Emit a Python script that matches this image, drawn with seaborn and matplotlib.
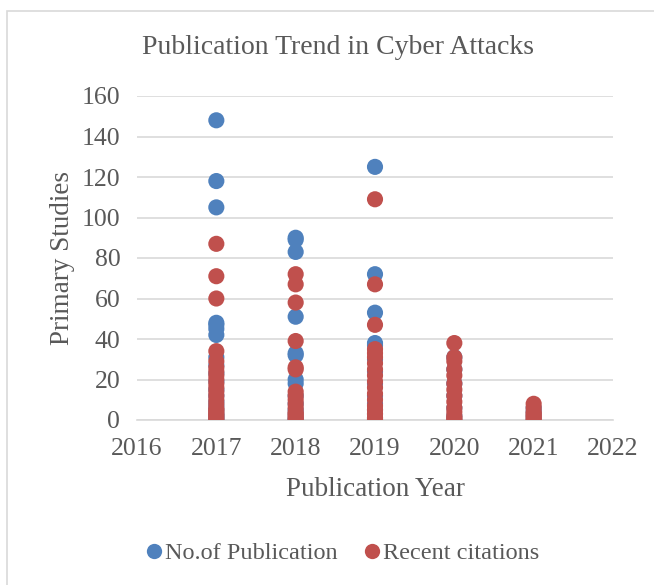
import matplotlib
matplotlib.use("Agg")
import matplotlib.pyplot as plt
import matplotlib.patches as mpatches
import seaborn as sns
import pandas as pd

sns.set_theme(style="white")
plt.rcParams['font.family'] = ['Liberation Serif', 'DejaVu Serif']

# --- data ---
pub_2017 = [148, 118, 105, 48, 47, 45, 42, 31, 27, 23, 19, 15, 12, 9, 7, 5, 3, 2, 1, 0]
pub_2018 = [90, 89, 83, 51, 33, 32, 20, 18, 12, 8, 5, 3, 1, 0]
pub_2019 = [125, 72, 53, 38, 37, 30, 24, 18, 12, 8, 5, 3, 1, 0]
pub_2020 = [31, 25, 18, 12, 6, 2, 0]
pub_2021 = [6, 4, 2, 0]

cit_2017 = [87, 71, 60, 34, 29, 26, 24, 22, 20, 18, 16, 14, 12, 10, 8, 6, 5, 4, 3, 2, 1, 0]
cit_2018 = [72, 67, 58, 39, 26, 25, 14, 12, 10, 8, 6, 4, 3, 2, 1, 0]
cit_2019 = [109, 67, 47, 35, 33, 31, 28, 25, 22, 19, 16, 13, 10, 7, 5, 3, 1, 0]
cit_2020 = [38, 31, 29, 25, 22, 18, 15, 12, 9, 6, 4, 2, 1, 0]
cit_2021 = [8, 6, 4, 3, 2, 1, 0]

series_names = ["No.of Publication", "Recent citations"]
x_ticks = [2016, 2017, 2018, 2019, 2020, 2021, 2022]
y_ticks = [0, 20, 40, 60, 80, 100, 120, 140, 160]

rows = []
for yr, vals in zip([2017, 2018, 2019, 2020, 2021], [pub_2017, pub_2018, pub_2019, pub_2020, pub_2021]):
    for v in vals:
        rows.append((yr, v, series_names[0]))
for yr, vals in zip([2017, 2018, 2019, 2020, 2021], [cit_2017, cit_2018, cit_2019, cit_2020, cit_2021]):
    for v in vals:
        rows.append((yr, v, series_names[1]))
df = pd.DataFrame(rows, columns=["Year", "Value", "Series"])

blue = "#4F81BD"
red = "#C0504D"
text_col = "#595959"
grid_col = "#D9D9D9"

fig = plt.figure(figsize=(6.54, 5.85), dpi=100)
fig.patch.set_facecolor("white")
# chart border (extends past the right/bottom edges of the crop)
fig.patches.append(mpatches.Rectangle((7/654, -10/585), (700-7)/654, (574+10)/585,
                                      transform=fig.transFigure, fill=False,
                                      edgecolor=grid_col, linewidth=1.2))

ax = fig.add_axes([137/654, 1-420/585, (613-137)/654, (420-96)/585])
sns.scatterplot(data=df, x="Year", y="Value", hue="Series",
                palette={series_names[0]: blue, series_names[1]: red},
                s=135, edgecolor="none", linewidth=0, ax=ax, legend=False, zorder=3)

ax.set_xlim(2016, 2022)
ax.set_ylim(0, 160)
ax.set_xticks(x_ticks)
ax.set_yticks(y_ticks)
ax.set_xticklabels([str(t) for t in x_ticks])
ax.tick_params(axis="both", length=0, labelsize=18.5, colors=text_col)
ax.tick_params(axis="x", pad=13)
ax.tick_params(axis="y", pad=12)
for lab in ax.get_xticklabels() + ax.get_yticklabels():
    lab.set_color(text_col)
ax.yaxis.grid(True, color=grid_col, linewidth=1.2, zorder=0)
ax.xaxis.grid(False)
for side in ["top", "right", "left"]:
    ax.spines[side].set_visible(False)
ax.spines["bottom"].set_color(grid_col)
ax.spines["bottom"].set_linewidth(1.2)
ax.spines["bottom"].set_zorder(1)
ax.set_axisbelow(True)

ax.set_xlabel("Publication Year", fontsize=19.5, color=text_col, labelpad=12)
ax.set_ylabel("Primary Studies", fontsize=19.5, color=text_col, labelpad=5)
fig.text(338/654, 1-48/585, "Publication Trend in Cyber Attacks", fontsize=20,
         color=text_col, ha="center", va="center")

handles = [plt.Line2D([], [], marker="o", linestyle="none", markersize=11,
                      markerfacecolor=c, markeredgecolor="none") for c in (blue, red)]
fig.legend(handles, series_names, loc="center", bbox_to_anchor=(341/654, 1-553/585),
           ncol=2, frameon=False, fontsize=17.5, labelcolor=text_col,
           handletextpad=0.0, columnspacing=0.95, handlelength=0.9)

fig.savefig("out.png", dpi=100, facecolor="white")
